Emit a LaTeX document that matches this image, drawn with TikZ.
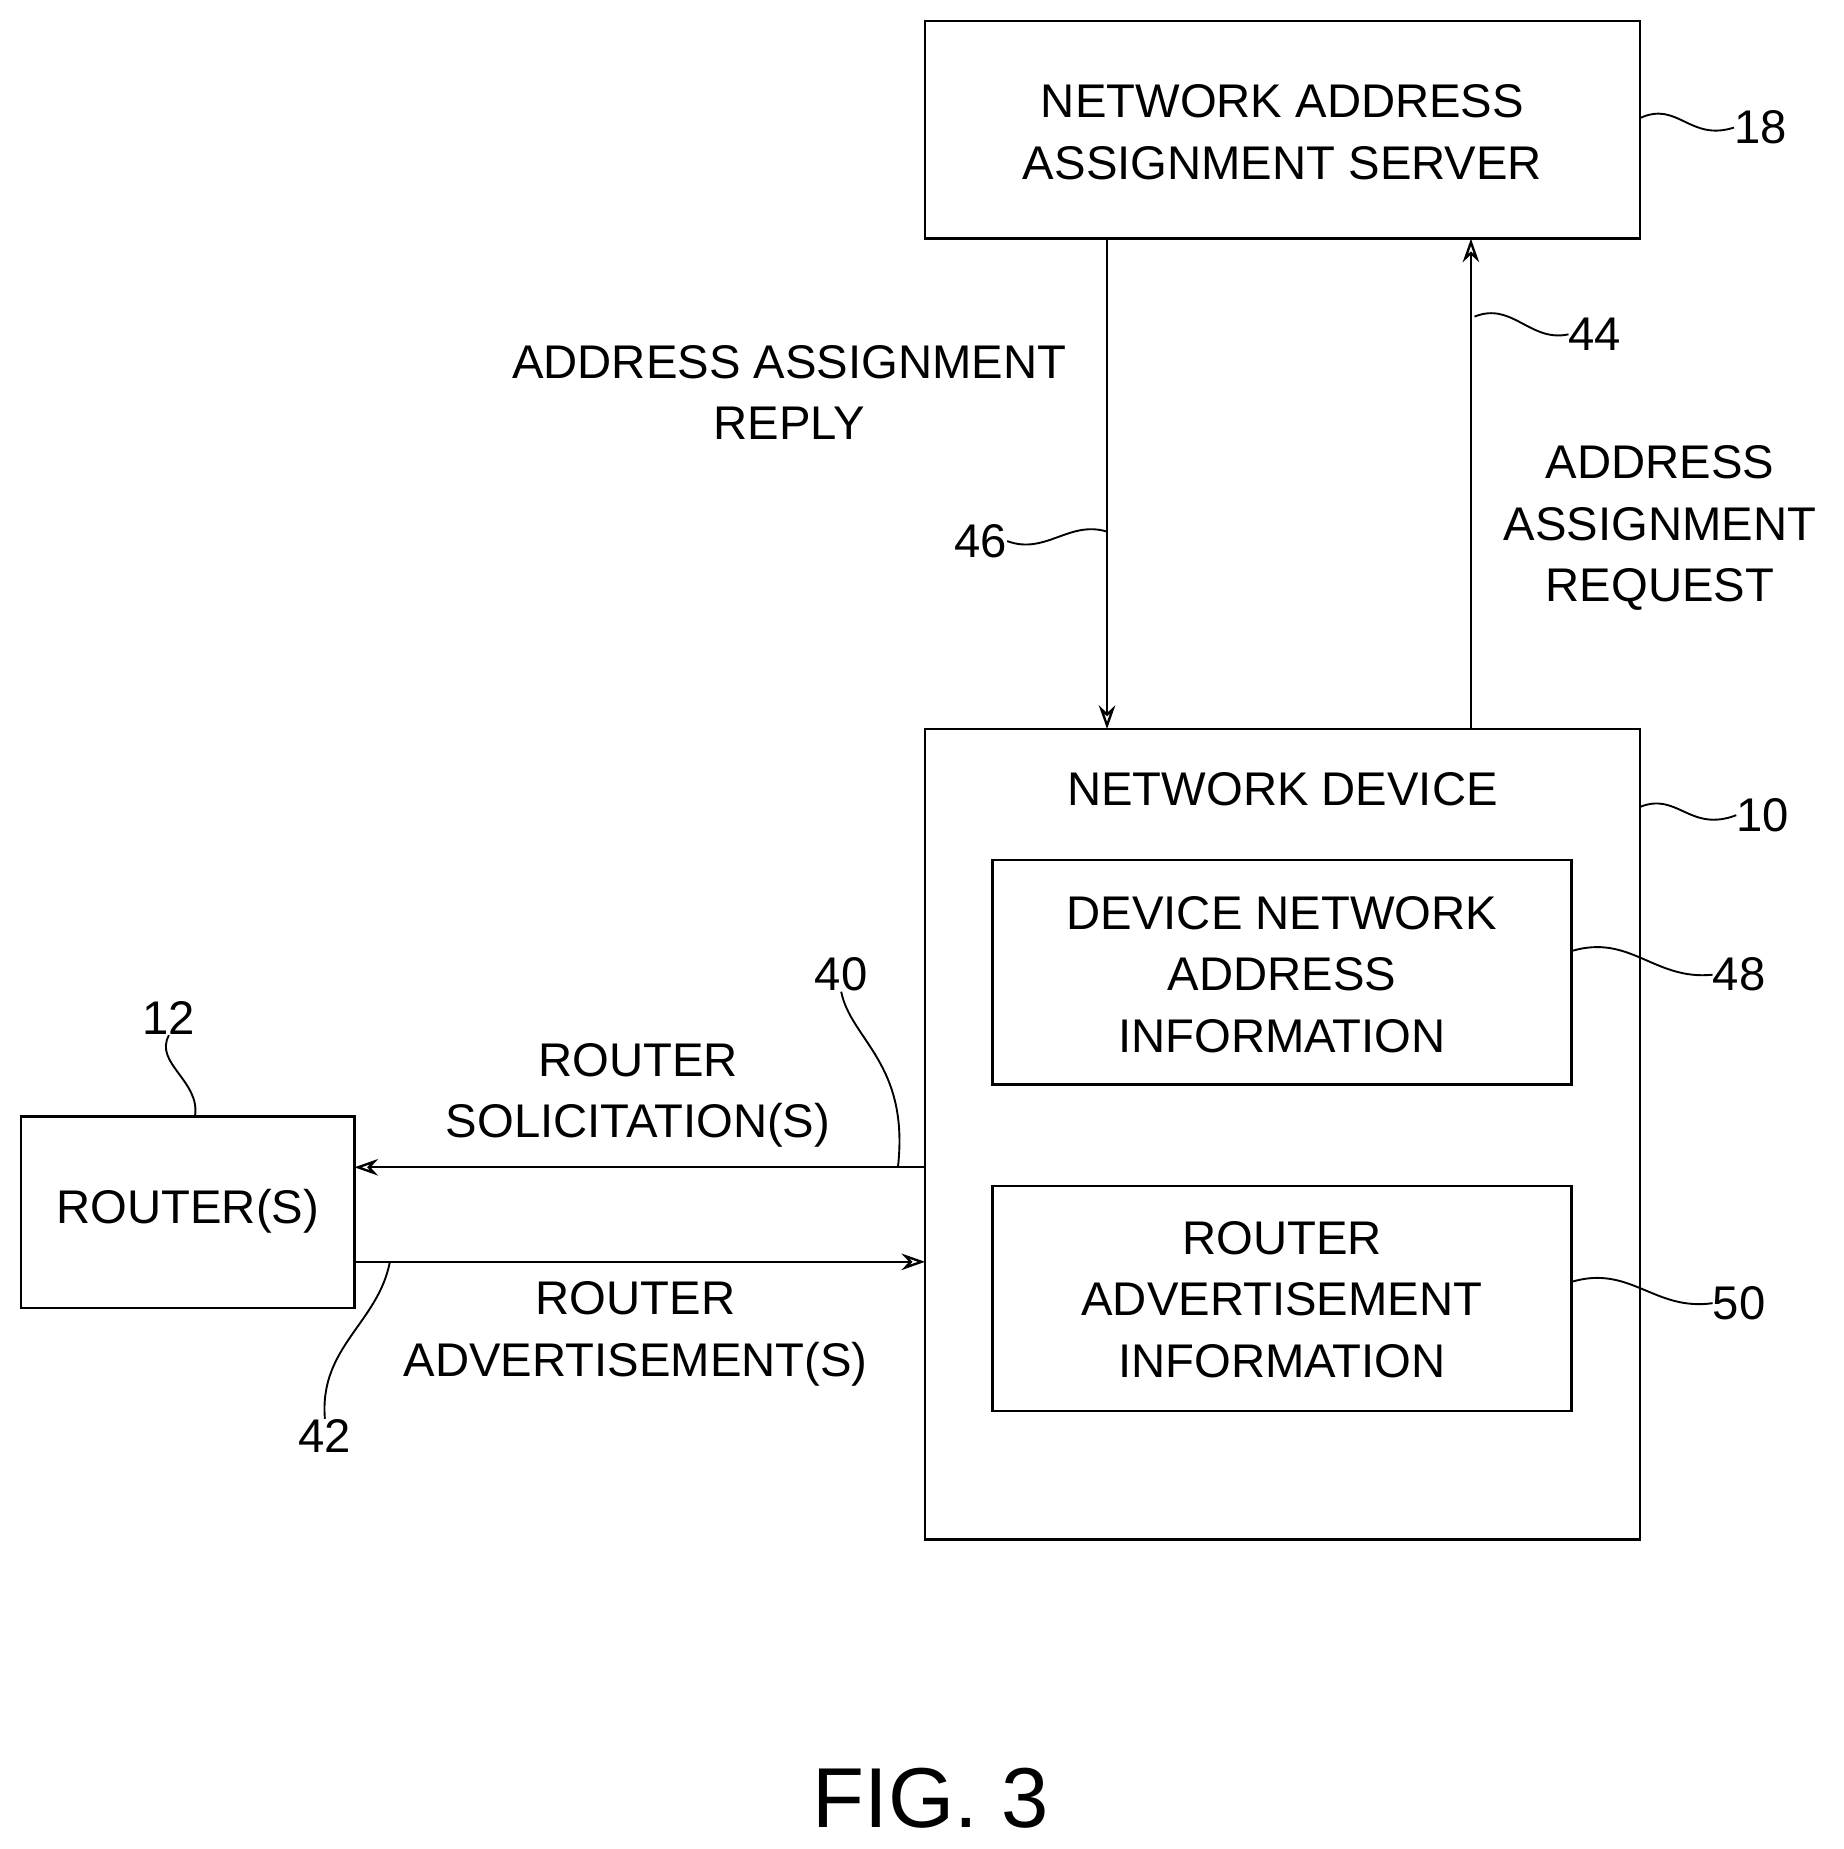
\documentclass[tikz,border=0pt]{standalone}
\usepackage{fontspec}
\setmainfont{Liberation Sans}
\usetikzlibrary{arrows.meta}
\begin{document}
\begin{tikzpicture}[x=1pt,y=-1pt,
  box/.style={draw,line width=2pt,inner sep=0pt},
  lbl/.style={font=\fontsize{40}{52}\selectfont,align=center,inner sep=0pt},
  num/.style={font=\fontsize{40}{48}\selectfont,inner sep=0pt},
  arr/.style={line width=2pt,-{Stealth[length=20pt,width=14pt,open]}},
  lead/.style={line width=1.6pt}]
\useasboundingbox (0,0) rectangle (1560,1565);
\node[box,minimum width=605pt,minimum height=184pt] (srv) at (1085.5,110) {};
\node[lbl] (srvt) at (1085.5,112) {NETWORK ADDRESS\\ASSIGNMENT SERVER};
\node[box,minimum width=605pt,minimum height=686pt] (dev) at (1085.5,960) {};
\node[lbl] (devt) at (1085.5,668) {NETWORK DEVICE};
\node[box,minimum width=490pt,minimum height=190pt] (dna) at (1085,823) {};
\node[lbl] (dnat) at (1085,825) {DEVICE NETWORK\\ADDRESS\\INFORMATION};
\node[box,minimum width=490pt,minimum height=190pt] (rai) at (1085,1099) {};
\node[lbl] (rait) at (1085,1100) {ROUTER\\ADVERTISEMENT\\INFORMATION};
\node[box,minimum width=282pt,minimum height=162pt] (rtr) at (159,1026) {};
\node[lbl] (rtrt) at (159,1025) {ROUTER(S)};
\coordinate (a1) at (937,202); \coordinate (a2) at (937,617);
\coordinate (b1) at (1245,617); \coordinate (b2) at (1245,202);
\coordinate (c1) at (783,988); \coordinate (c2) at (300,988);
\coordinate (d1) at (300,1068); \coordinate (d2) at (783,1068);
\draw[arr] (a1) -- (a2);
\draw[arr] (b1) -- (b2);
\draw[arr] (c1) -- (c2);
\draw[arr] (d1) -- (d2);
\node[lbl] (l1) at (668,332) {ADDRESS ASSIGNMENT\\REPLY};
\node[lbl] (l2) at (1405,447) {ADDRESS\\ASSIGNMENT\\REQUEST};
\node[lbl] (l3) at (540,927) {ROUTER\\SOLICITATION(S)};
\node[lbl] (l4) at (538,1129) {ROUTER\\ADVERTISEMENT(S)};
\node[font=\fontsize{72}{80}\selectfont,inner sep=0pt] (fig) at (788,1522) {FIG. 3};
\node[num] (n18) at (1490,108) {18};
\node[num] (n44) at (1350,283) {44};
\node[num] (n46) at (830,458) {46};
\node[num] (n10) at (1492,690) {10};
\node[num] (n48) at (1472,825) {48};
\node[num] (n50) at (1472,1103) {50};
\node[num] (n12) at (143,862) {12};
\node[num] (n40) at (712,825) {40};
\node[num] (n42) at (275,1215) {42};
\draw[lead] (1388,100) .. controls (1420,85) and (1430,120) .. (n18.west);
\draw[lead] (1248,268) .. controls (1280,255) and (1295,290) .. (n44.west);
\draw[lead] (n46.east) .. controls (885,470) and (905,440) .. (937,450);
\draw[lead] (1388,683) .. controls (1420,670) and (1430,705) .. (n10.west);
\draw[lead] (1330,805) .. controls (1380,790) and (1400,830) .. (n48.west);
\draw[lead] (1330,1085) .. controls (1380,1070) and (1400,1110) .. (n50.west);
\draw[lead] (n12.south) .. controls (130,900) and (170,915) .. (165,945);
\draw[lead] (n40.south) .. controls (720,880) and (770,900) .. (760,988);
\draw[lead] (330,1068) .. controls (320,1120) and (270,1140) .. (n42.north);
\end{tikzpicture}
\end{document}
